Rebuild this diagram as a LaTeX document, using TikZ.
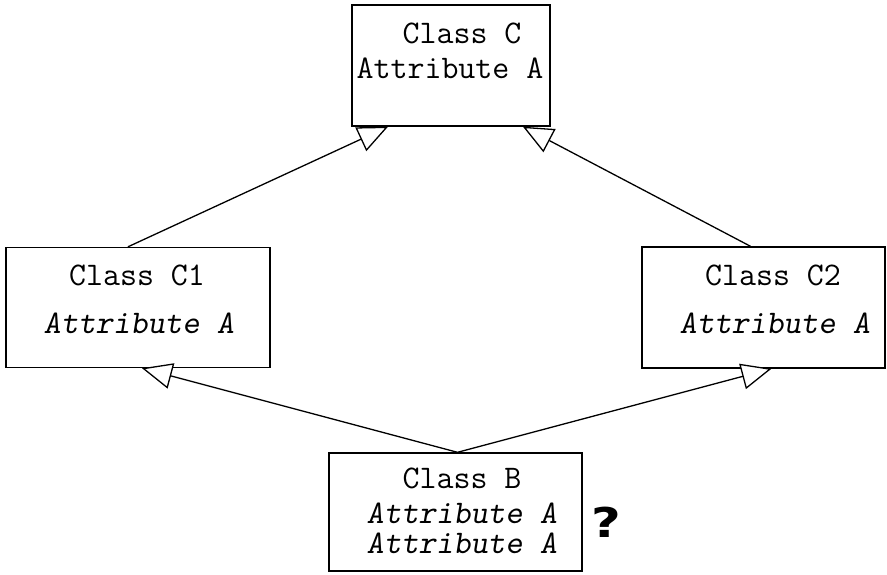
\documentclass[tikz,border=0pt]{standalone}
\usepackage{fontspec}
\newfontfamily\qfont{DejaVu Sans}
\usetikzlibrary{arrows.meta,calc}
\begin{document}
\begin{tikzpicture}[x=1pt,y=-1pt,
  classbox/.style={draw, line width=1.4pt, rectangle, inner sep=0pt},
  label/.style={font=\fontsize{33}{35}\selectfont\ttfamily, anchor=base, inner sep=0pt},
  attr/.style={label, font=\fontsize{33}{35}\selectfont\ttfamily\slshape},
  inherit/.style={line width=1.3pt, -{Triangle[open, length=30pt, width=26pt, fill=white]}}]
\useasboundingbox (0,0) rectangle (887,574);

% class boxes
\node[classbox, minimum width=198pt, minimum height=121pt] (c) at (451,65.5) {};
\node[classbox, minimum width=264pt, minimum height=120pt] (c1) at (138,307.5) {};
\node[classbox, minimum width=243pt, minimum height=121pt] (c2) at (763.5,307.5) {};
\node[classbox, minimum width=253pt, minimum height=118pt] (b) at (455.5,512) {};

% texts
\node[label] (cname) at (462,43) {Class C};
\node[label] (cattr) at (450,78) {Attribute A};
\node[label] (c1name) at (137,285) {Class C1};
\node[attr] (c1attr) at (139,333) {Attribute A};
\node[label] (c2name) at (773,285) {Class C2};
\node[attr] (c2attr) at (775,333) {Attribute A};
\node[label] (bname) at (462,488) {Class B};
\node[attr] (battr1) at (462,523) {Attribute A};
\node[attr] (battr2) at (462,553) {Attribute A};
\node[font=\fontsize{41}{44}\selectfont\qfont\bfseries, anchor=base, inner sep=0pt, xscale=1.25] (q) at (606,537) {?};

% generalisation arrows
\draw[inherit] ($(c1.north)+(-10,0)$) -- ($(c.south)+(-63,0)$);
\draw[inherit] ($(c2.north)+(-13,0)$) -- ($(c.south)+(72,0)$);
\draw[inherit] ($(b.north)+(2,0)$) -- ($(c1.south)+(4,0)$);
\draw[inherit] ($(b.north)+(2,0)$) -- ($(c2.south)+(8,0)$);
\end{tikzpicture}
\end{document}
